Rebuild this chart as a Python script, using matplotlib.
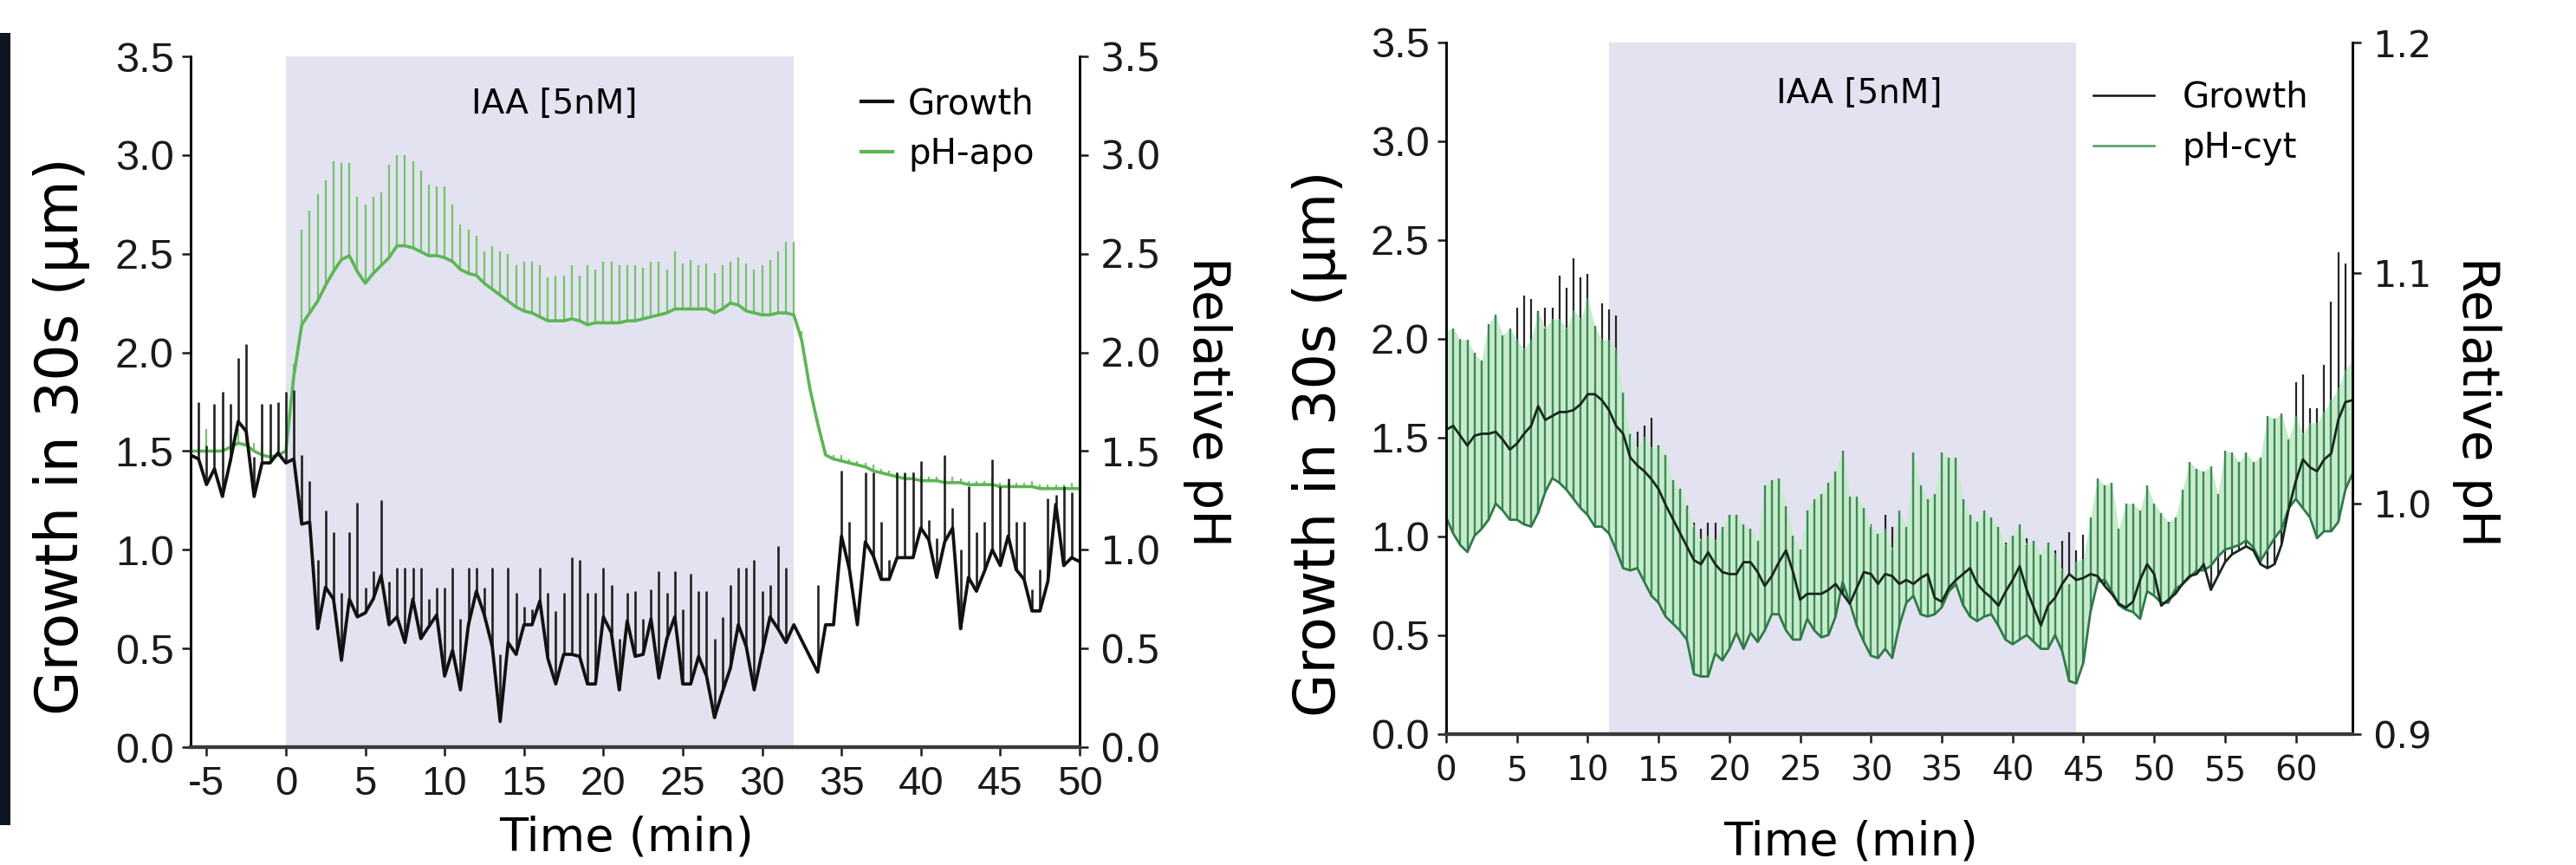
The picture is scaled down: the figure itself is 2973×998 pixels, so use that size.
import numpy as np
import matplotlib
matplotlib.use('Agg')
import matplotlib.pyplot as plt
from matplotlib import font_manager
from matplotlib.lines import Line2D
from matplotlib.patches import Rectangle
from matplotlib.ticker import FormatStrFormatter

plt.rcParams['font.family'] = ['DejaVu Sans']
plt.rcParams['axes.unicode_minus'] = False

_names = {f.name for f in font_manager.fontManager.ttflist}
NARROW = 'Liberation Sans Narrow' if 'Liberation Sans Narrow' in _names else 'Liberation Sans'

# ---------------- data: left panel (pH-apo), sampled every 30 s from -6 to 50 min
TIME_LEFT = np.arange(-6.0, 50.01, 0.5)
IAA_LEFT = (0.0, 32.0)

growth_left = [
    1.48, 1.46, 1.33, 1.41, 1.27, 1.45, 1.65, 1.60, 1.27, 1.44,
    1.44, 1.49, 1.44, 1.46, 1.13, 1.14, 0.60, 0.81, 0.75, 0.44,
    0.75, 0.66, 0.68, 0.75, 0.87, 0.62, 0.66, 0.53, 0.75, 0.55,
    0.61, 0.67, 0.36, 0.49, 0.29, 0.62, 0.79, 0.67, 0.51, 0.13,
    0.53, 0.47, 0.62, 0.62, 0.74, 0.45, 0.32, 0.47, 0.47, 0.46,
    0.32, 0.32, 0.66, 0.58, 0.29, 0.64, 0.46, 0.47, 0.65, 0.35,
    0.55, 0.66, 0.32, 0.32, 0.46, 0.36, 0.15, 0.28, 0.40, 0.62,
    0.51, 0.29, 0.48, 0.66, 0.60, 0.53, 0.62, np.nan, np.nan, 0.38,
    0.62, 0.62, 1.07, 0.90, 0.62, 1.04, 0.97, 0.85, 0.85, 0.96,
    0.96, 0.96, 1.11, 1.05, 0.86, 1.04, 1.11, 0.60, 0.86, 0.79,
    0.89, 1.00, 0.92, 1.07, 0.90, 0.85, 0.69, 0.69, 0.84, 1.23,
    0.92, 0.96, 0.94,
]
growth_left_sem = [
    0.27, 0.29, 0.20, 0.33, 0.53, 0.29, 0.32, 0.44, 0.20, 0.30,
    0.30, 0.26, 0.36, 0.35, 0.35, 0.21, 0.35, 0.39, 0.34, 0.34,
    0.34, 0.58, 0.13, 0.14, 0.38, 0.22, 0.25, 0.38, 0.16, 0.36,
    0.14, 0.14, 0.45, 0.42, 0.36, 0.29, 0.12, 0.14, 0.40, 0.34,
    0.38, 0.31, 0.09, 0.08, 0.17, 0.33, 0.37, 0.31, 0.49, 0.49,
    0.46, 0.46, 0.25, 0.24, 0.26, 0.14, 0.33, 0.18, 0.15, 0.54,
    0.23, 0.23, 0.38, 0.56, 0.33, 0.43, 0.40, 0.38, 0.42, 0.29,
    0.40, 0.66, 0.31, 0.16, 0.42, 0.38, 0.00, np.nan, np.nan, 0.44,
    0.00, 0.00, 0.33, 0.24, 0.00, 0.35, 0.42, 0.29, 0.10, 0.43,
    0.43, 0.43, 0.34, 0.10, 0.20, 0.44, 0.10, 0.40, 0.46, 0.30,
    0.25, 0.46, 0.40, 0.29, 0.24, 0.29, 0.11, 0.21, 0.42, 0.05,
    0.40, 0.33, 0.35,
]
ph_apo = [
    1.50, 1.50, 1.50, 1.50, 1.50, 1.52, 1.54, 1.53, 1.50, 1.48,
    1.47, 1.48, 1.50, 1.88, 2.14, 2.20, 2.26, 2.34, 2.41, 2.47,
    2.49, 2.41, 2.35, 2.40, 2.44, 2.48, 2.54, 2.54, 2.53, 2.51,
    2.49, 2.49, 2.48, 2.46, 2.42, 2.40, 2.39, 2.35, 2.32, 2.29,
    2.26, 2.23, 2.21, 2.20, 2.18, 2.16, 2.16, 2.16, 2.17, 2.16,
    2.14, 2.15, 2.15, 2.15, 2.15, 2.16, 2.16, 2.17, 2.18, 2.19,
    2.20, 2.22, 2.22, 2.22, 2.22, 2.22, 2.20, 2.22, 2.25, 2.24,
    2.21, 2.20, 2.19, 2.19, 2.20, 2.20, 2.19, 2.06, 1.82, 1.64,
    1.48, 1.46, 1.45, 1.44, 1.43, 1.42, 1.40, 1.39, 1.38, 1.37,
    1.36, 1.36, 1.35, 1.35, 1.35, 1.34, 1.34, 1.34, 1.33, 1.33,
    1.33, 1.33, 1.32, 1.32, 1.32, 1.32, 1.32, 1.31, 1.31, 1.31,
    1.31, 1.31, 1.31,
]
ph_apo_sem = [
    0.04, 0.05, 0.11, 0.04, 0.05, 0.06, 0.07, 0.05, 0.04, 0.05,
    0.04, 0.05, 0.05, 0.06, 0.48, 0.52, 0.54, 0.53, 0.56, 0.49,
    0.47, 0.38, 0.40, 0.39, 0.37, 0.47, 0.46, 0.46, 0.44, 0.41,
    0.36, 0.35, 0.36, 0.29, 0.23, 0.22, 0.20, 0.16, 0.22, 0.22,
    0.24, 0.21, 0.25, 0.26, 0.26, 0.22, 0.23, 0.23, 0.27, 0.23,
    0.30, 0.27, 0.31, 0.31, 0.29, 0.28, 0.28, 0.26, 0.28, 0.27,
    0.22, 0.29, 0.23, 0.25, 0.22, 0.23, 0.20, 0.22, 0.21, 0.24,
    0.24, 0.22, 0.25, 0.28, 0.31, 0.36, 0.37, 0.05, 0.02, 0.02,
    0.02, 0.02, 0.03, 0.02, 0.02, 0.02, 0.03, 0.02, 0.02, 0.02,
    0.02, 0.03, 0.02, 0.02, 0.02, 0.02, 0.03, 0.02, 0.02, 0.02,
    0.02, 0.03, 0.02, 0.02, 0.02, 0.02, 0.03, 0.02, 0.02, 0.02,
    0.02, 0.03, 0.02,
]

# ---------------- data: right panel (pH-cyt), sampled every 30 s from 0 to 64 min
TIME_RIGHT = np.arange(0.0, 64.01, 0.5)
IAA_RIGHT = (11.5, 44.5)

growth_right = [
    1.54, 1.56, 1.51, 1.46, 1.51, 1.52, 1.52, 1.53, 1.49, 1.44,
    1.47, 1.52, 1.56, 1.66, 1.59, 1.61, 1.63, 1.63, 1.64, 1.67,
    1.72, 1.72, 1.69, 1.64, 1.56, 1.52, 1.40, 1.36, 1.33, 1.29,
    1.24, 1.16, 1.09, 1.02, 0.95, 0.88, 0.86, 0.92, 0.86, 0.82,
    0.81, 0.81, 0.87, 0.87, 0.82, 0.75, 0.80, 0.87, 0.93, 0.82,
    0.68, 0.71, 0.71, 0.71, 0.73, 0.76, 0.71, 0.66, 0.74, 0.82,
    0.81, 0.76, 0.81, 0.80, 0.76, 0.78, 0.76, 0.79, 0.81, 0.69,
    0.67, 0.74, 0.78, 0.81, 0.84, 0.76, 0.72, 0.69, 0.65, 0.72,
    0.78, 0.85, 0.73, 0.64, 0.55, 0.65, 0.69, 0.76, 0.81, 0.78,
    0.79, 0.81, 0.80, 0.75, 0.71, 0.66, 0.64, 0.67, 0.78, 0.86,
    0.81, 0.65, 0.68, 0.71, 0.76, 0.80, 0.81, 0.86, 0.73, 0.80,
    0.87, 0.91, 0.93, 0.95, 0.93, 0.86, 0.84, 0.86, 0.96, 1.14,
    1.28, 1.39, 1.35, 1.33, 1.39, 1.42, 1.59, 1.68, 1.69,
]
growth_right_sem = [
    0.50, 0.49, 0.49, 0.53, 0.42, 0.37, 0.48, 0.47, 0.46, 0.46,
    0.69, 0.70, 0.64, 0.48, 0.57, 0.55, 0.69, 0.63, 0.77, 0.64,
    0.61, 0.34, 0.49, 0.51, 0.56, 0.21, 0.12, 0.17, 0.23, 0.31,
    0.22, 0.25, 0.19, 0.22, 0.21, 0.19, 0.18, 0.15, 0.21, 0.18,
    0.30, 0.30, 0.19, 0.17, 0.16, 0.30, 0.48, 0.42, 0.22, 0.18,
    0.25, 0.30, 0.30, 0.35, 0.40, 0.45, 0.50, 0.45, 0.40, 0.30,
    0.25, 0.25, 0.30, 0.25, 0.28, 0.22, 0.30, 0.27, 0.25, 0.30,
    0.32, 0.28, 0.30, 0.25, 0.22, 0.26, 0.28, 0.24, 0.27, 0.25,
    0.22, 0.20, 0.26, 0.28, 0.30, 0.25, 0.24, 0.22, 0.21, 0.15,
    0.22, 0.20, 0.24, 0.26, 0.25, 0.28, 0.27, 0.24, 0.22, 0.20,
    0.24, 0.30, 0.28, 0.26, 0.25, 0.24, 0.26, 0.24, 0.30, 0.25,
    0.26, 0.27, 0.30, 0.47, 0.30, 0.30, 0.26, 0.25, 0.30, 0.30,
    0.50, 0.43, 0.30, 0.32, 0.48, 0.77, 0.85, 0.70, 0.30,
]
ph_cyt = [
    0.994, 0.987, 0.982, 0.979, 0.986, 0.989, 0.993, 1.000, 0.997, 0.993,
    0.993, 0.991, 0.990, 0.996, 1.005, 1.011, 1.009, 1.006, 1.002, 0.998,
    0.995, 0.990, 0.990, 0.987, 0.980, 0.972, 0.971, 0.972, 0.966, 0.960,
    0.957, 0.951, 0.948, 0.945, 0.941, 0.926, 0.925, 0.925, 0.935, 0.932,
    0.937, 0.944, 0.937, 0.944, 0.940, 0.945, 0.952, 0.952, 0.945, 0.941,
    0.941, 0.950, 0.945, 0.942, 0.943, 0.951, 0.966, 0.957, 0.947, 0.940,
    0.934, 0.933, 0.937, 0.933, 0.947, 0.957, 0.960, 0.952, 0.951, 0.952,
    0.955, 0.962, 0.965, 0.956, 0.951, 0.949, 0.951, 0.952, 0.947, 0.941,
    0.939, 0.941, 0.943, 0.940, 0.937, 0.937, 0.943, 0.936, 0.923, 0.922,
    0.931, 0.953, 0.966, 0.967, 0.962, 0.956, 0.954, 0.953, 0.950, 0.962,
    0.960, 0.957, 0.957, 0.963, 0.965, 0.968, 0.971, 0.971, 0.973, 0.977,
    0.980, 0.981, 0.982, 0.984, 0.981, 0.975, 0.980, 0.985, 0.989, 0.998,
    1.002, 0.998, 0.994, 0.985, 0.988, 0.988, 0.992, 1.006, 1.013,
]
ph_cyt_sem = [
    0.081, 0.089, 0.089, 0.092, 0.079, 0.073, 0.085, 0.082, 0.076, 0.083,
    0.078, 0.076, 0.081, 0.087, 0.071, 0.069, 0.071, 0.070, 0.082, 0.082,
    0.094, 0.087, 0.081, 0.084, 0.087, 0.076, 0.059, 0.052, 0.063, 0.064,
    0.068, 0.070, 0.062, 0.061, 0.058, 0.064, 0.059, 0.061, 0.049, 0.058,
    0.058, 0.051, 0.054, 0.045, 0.044, 0.063, 0.058, 0.059, 0.054, 0.045,
    0.039, 0.047, 0.057, 0.062, 0.066, 0.063, 0.057, 0.046, 0.056, 0.058,
    0.056, 0.054, 0.052, 0.047, 0.050, 0.033, 0.062, 0.056, 0.051, 0.052,
    0.067, 0.058, 0.055, 0.046, 0.044, 0.043, 0.046, 0.042, 0.043, 0.041,
    0.047, 0.050, 0.039, 0.044, 0.041, 0.046, 0.035, 0.035, 0.042, 0.053,
    0.045, 0.041, 0.045, 0.041, 0.047, 0.033, 0.046, 0.047, 0.047, 0.046,
    0.040, 0.039, 0.035, 0.031, 0.041, 0.050, 0.044, 0.043, 0.043, 0.027,
    0.043, 0.041, 0.036, 0.038, 0.037, 0.045, 0.058, 0.052, 0.050, 0.030,
    0.036, 0.032, 0.041, 0.050, 0.052, 0.057, 0.058, 0.052, 0.049,
]

SHADE = '#e2e2f0'
W, H = 2973, 998
fig = plt.figure(figsize=(W / 100, H / 100), dpi=100)


def add_axes_px(x0, y0, x1, y1):
    return fig.add_axes([x0 / W, 1 - y1 / H, (x1 - x0) / W, (y1 - y0) / H])


def style_axes(ax, ax2, right_size, narrow_x=True):
    for a in (ax, ax2):
        a.spines['top'].set_visible(False)
        a.spines['left'].set_linewidth(1.8)
        a.spines['right'].set_linewidth(1.8)
        a.spines['bottom'].set_linewidth(3.0)
        a.spines['bottom'].set_color('#3a3a3a')
        a.tick_params(direction='out', length=7, width=1.8, colors='#1a1a1a')
    ax.tick_params(axis='y', pad=7, labelsize=35, labelfontfamily=NARROW)
    if narrow_x:
        ax.tick_params(axis='x', pad=8, labelsize=34, labelfontfamily=NARROW)
    else:
        ax.tick_params(axis='x', pad=10, labelsize=28)
    ax2.tick_params(axis='y', pad=10, labelsize=right_size)
    ax.yaxis.set_major_formatter(FormatStrFormatter('%.1f'))
    ax2.yaxis.set_major_formatter(FormatStrFormatter('%.1f'))


# ================= left panel =================
ax = add_axes_px(220, 65, 1246, 862)
ax2 = ax.twinx()
t = TIME_LEFT
g = np.array(growth_left)
gs = np.array(growth_left_sem)
p = np.array(ph_apo)
ps = np.array(ph_apo_sem)

ax.axvspan(*IAA_LEFT, color=SHADE, lw=0, zorder=0)
ax.vlines(t, p, p + ps, color='#74c46c', lw=1.6, zorder=2)
ax.plot(t, p, color='#5cb654', lw=2.6, zorder=3)
ok = ~np.isnan(g)
ax.vlines(t[ok], g[ok], g[ok] + gs[ok], color='#222222', lw=1.9, zorder=4)
ax.plot(t[ok], g[ok], color='#111111', lw=2.7, zorder=5)

ax.set_xlim(-6, 50)
ax.set_ylim(0, 3.5)
ax2.set_ylim(0, 3.5)
ax.set_xticks(np.arange(-5, 51, 5))
ax.set_yticks(np.arange(0, 3.51, 0.5))
ax2.set_yticks(np.arange(0, 3.51, 0.5))
style_axes(ax, ax2, right_size=32)

ax.text(16.9, 3.26, 'IAA [5nM]', ha='center', va='center', fontsize=28, zorder=6)
ax.set_ylabel('Growth in 30s (μm)', fontsize=48)
ax.yaxis.set_label_coords(-0.113, 0.45)
ax2.set_ylabel('Relative pH', fontsize=42, rotation=270, va='center', ha='center')
ax2.yaxis.set_label_coords(1.144, 0.5)
ax.set_xlabel('Time (min)', fontsize=39)
ax.xaxis.set_label_coords(0.49, -0.098)

handles = [Line2D([], [], color='#111111', lw=3.0),
           Line2D([], [], color='#5cb654', lw=3.0)]
ax2.legend(handles, ['Growth', 'pH-apo'], loc='upper left',
           bbox_to_anchor=(0.754, 0.956), frameon=False, fontsize=29,
           handlelength=0.9, handletextpad=0.45, labelspacing=0.45,
           borderpad=0, borderaxespad=0)

# ================= right panel =================
bx = add_axes_px(1669, 49, 2715, 847)
bx2 = bx.twinx()
t = TIME_RIGHT
g = np.array(growth_right)
gs = np.array(growth_right_sem)
p = np.array(ph_cyt)
ps = np.array(ph_cyt_sem)
ph_tr = bx2.transData

bx.axvspan(*IAA_RIGHT, color=SHADE, lw=0, zorder=0)
bx.vlines(t, g, g + gs, color='#262626', lw=1.6, zorder=1)
bx.fill_between(t, p, p + ps, color='#c9ebcd', lw=0, zorder=2, transform=ph_tr)
bx.vlines(t, p, p + ps, color='#3a8a55', lw=1.7, zorder=3, transform=ph_tr)
bx.plot(t, p, color='#2f7a48', lw=2.0, zorder=4, transform=ph_tr)
bx.plot(t, g, color='#17271c', lw=2.0, zorder=5)

bx.set_xlim(0, 64)
bx.set_ylim(0, 3.5)
bx2.set_ylim(0.9, 1.2)
bx.set_xticks(np.arange(0, 61, 5))
bx.set_yticks(np.arange(0, 3.51, 0.5))
bx2.set_yticks([0.9, 1.0, 1.1, 1.2])
style_axes(bx, bx2, right_size=31, narrow_x=False)

bx.text(29.2, 3.24, 'IAA [5nM]', ha='center', va='center', fontsize=28, zorder=6)
bx.set_ylabel('Growth in 30s (μm)', fontsize=47)
bx.yaxis.set_label_coords(-0.109, 0.42)
bx2.set_ylabel('Relative pH', fontsize=42, rotation=270, va='center', ha='center')
bx2.yaxis.set_label_coords(1.137, 0.48)
bx.set_xlabel('Time (min)', fontsize=39)
bx.xaxis.set_label_coords(0.447, -0.124)

handles = [Line2D([], [], color='#111111', lw=1.8),
           Line2D([], [], color='#4f9a62', lw=1.8)]
bx2.legend(handles, ['Growth', 'pH-cyt'], loc='upper left',
           bbox_to_anchor=(0.714, 0.945), frameon=False, fontsize=29,
           handlelength=1.75, handletextpad=0.8, labelspacing=0.45,
           borderpad=0, borderaxespad=0)

# dark strip at the very left edge of the source image
fig.add_artist(Rectangle((0, 1 - 952 / H), 12 / W, (952 - 38) / H,
                         transform=fig.transFigure, color='#0d1422', lw=0))

fig.savefig('out.png', dpi=100)
